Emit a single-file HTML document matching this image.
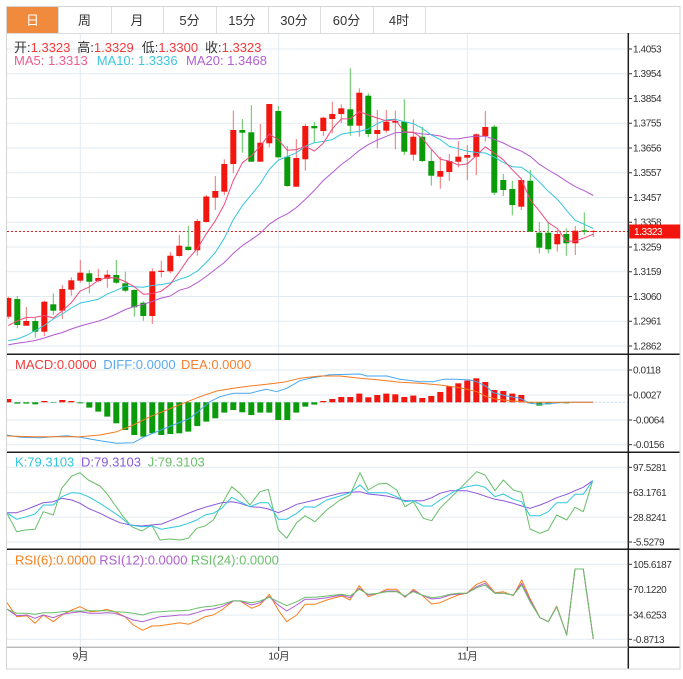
<!DOCTYPE html>
<html><head><meta charset="utf-8">
<style>
html,body{margin:0;padding:0;background:#fff;}
svg{display:block;font-family:"Liberation Sans","Noto Sans CJK SC",sans-serif;}
.ax{font-size:10px;fill:#333;letter-spacing:-0.4px;}
.tab{font-size:13px;fill:#333;text-anchor:middle;}
.lg{font-size:13px;}
</style></head><body>
<svg id="s" width="683" height="679" viewBox="0 0 683 679" xmlns="http://www.w3.org/2000/svg">
<defs><clipPath id="pc"><rect x="7" y="34" width="621" height="613"/></clipPath></defs>
<rect width="683" height="679" fill="#fff"/>

<!-- tabs -->
<rect x="7" y="7" width="51" height="26" fill="#f08a3c"/>
<g stroke="#dcdcdc" stroke-width="1">
<line x1="58.5" y1="6" x2="58.5" y2="33"/>
<line x1="111.5" y1="6" x2="111.5" y2="33"/>
<line x1="163.5" y1="6" x2="163.5" y2="33"/>
<line x1="216.5" y1="6" x2="216.5" y2="33"/>
<line x1="268.5" y1="6" x2="268.5" y2="33"/>
<line x1="320.5" y1="6" x2="320.5" y2="33"/>
<line x1="373.5" y1="6" x2="373.5" y2="33"/>
<line x1="425.5" y1="6" x2="425.5" y2="33"/>
<line x1="6" y1="33.5" x2="680" y2="33.5"/>
</g>
<text class="tab" x="32.5" y="25" style="fill:#fff">日</text>
<text class="tab" x="84.5" y="25">周</text>
<text class="tab" x="137" y="25">月</text>
<text class="tab" x="189.5" y="25">5分</text>
<text class="tab" x="242" y="25">15分</text>
<text class="tab" x="294" y="25">30分</text>
<text class="tab" x="346.5" y="25">60分</text>
<text class="tab" x="399" y="25">4时</text>

<!-- grid lines -->
<g stroke="#e3ebf1" stroke-width="1">
<line x1="7" x2="628" y1="49" y2="49"/>
<line x1="7" x2="628" y1="73.75" y2="73.75"/>
<line x1="7" x2="628" y1="98.5" y2="98.5"/>
<line x1="7" x2="628" y1="123.25" y2="123.25"/>
<line x1="7" x2="628" y1="148" y2="148"/>
<line x1="7" x2="628" y1="172.75" y2="172.75"/>
<line x1="7" x2="628" y1="197.5" y2="197.5"/>
<line x1="7" x2="628" y1="222.25" y2="222.25"/>
<line x1="7" x2="628" y1="247" y2="247"/>
<line x1="7" x2="628" y1="271.75" y2="271.75"/>
<line x1="7" x2="628" y1="296.5" y2="296.5"/>
<line x1="7" x2="628" y1="321.25" y2="321.25"/>
<line x1="7" x2="628" y1="346" y2="346"/>
<line x1="7" x2="628" y1="370" y2="370"/>
<line x1="7" x2="628" y1="395" y2="395"/>
<line x1="7" x2="628" y1="420" y2="420"/>
<line x1="7" x2="628" y1="444.7" y2="444.7"/>
<line x1="7" x2="628" y1="467.3" y2="467.3"/>
<line x1="7" x2="628" y1="492.7" y2="492.7"/>
<line x1="7" x2="628" y1="517.3" y2="517.3"/>
<line x1="7" x2="628" y1="542" y2="542"/>
<line x1="7" x2="628" y1="564.3" y2="564.3"/>
<line x1="7" x2="628" y1="589.3" y2="589.3"/>
<line x1="7" x2="628" y1="615" y2="615"/>
<line x1="7" x2="628" y1="639.3" y2="639.3"/>
<line x1="80.3" x2="80.3" y1="34" y2="647"/>
<line x1="278.7" x2="278.7" y1="34" y2="647"/>
<line x1="467.3" x2="467.3" y1="34" y2="647"/>
</g>

<!-- current price dotted line -->
<line x1="7" x2="628" y1="231.5" y2="231.5" stroke="#e0201a" stroke-width="1" stroke-dasharray="2,2"/>
<!-- macd zero dotted -->
<line x1="7" x2="628" y1="402.3" y2="402.3" stroke="#b5dcf2" stroke-width="1" stroke-dasharray="2,2"/>

<g id="dyn" clip-path="url(#pc)"></g>

<!-- legends -->
<text class="lg" x="14" y="52"><tspan fill="#333">开:</tspan><tspan fill="#f23a3a">1.3323</tspan></text>
<text class="lg" x="77.3" y="52"><tspan fill="#333">高:</tspan><tspan fill="#f23a3a">1.3329</tspan></text>
<text class="lg" x="141.7" y="52"><tspan fill="#333">低:</tspan><tspan fill="#f23a3a">1.3300</tspan></text>
<text class="lg" x="205" y="52"><tspan fill="#333">收:</tspan><tspan fill="#f23a3a">1.3323</tspan></text>
<text class="lg" x="14" y="65" fill="#ee5d8e">MA5: 1.3313</text>
<text class="lg" x="96.7" y="65" fill="#3ec4de">MA10: 1.3336</text>
<text class="lg" x="186" y="65" fill="#b25fd2">MA20: 1.3468</text>

<text class="lg" x="15" y="369" fill="#f03c3c">MACD:0.0000</text>
<text class="lg" x="103.3" y="369" fill="#5aaaf0">DIFF:0.0000</text>
<text class="lg" x="181" y="369" fill="#f58030">DEA:0.0000</text>

<text class="lg" x="15" y="466.7" fill="#2ec5de">K:79.3103</text>
<text class="lg" x="81" y="466.7" fill="#8a5ad8">D:79.3103</text>
<text class="lg" x="147.7" y="466.7" fill="#6cc06c">J:79.3103</text>

<text class="lg" x="15" y="564.3" fill="#f7801e">RSI(6):0.0000</text>
<text class="lg" x="99.3" y="564.3" fill="#b060d0">RSI(12):0.0000</text>
<text class="lg" x="190.7" y="564.3" fill="#6cc06c">RSI(24):0.0000</text>

<!-- panel separators & frame -->
<g stroke="#1e1e1e" stroke-width="1.5">
<line x1="7" x2="680" y1="354.3" y2="354.3"/>
<line x1="7" x2="680" y1="452.3" y2="452.3"/>
<line x1="7" x2="680" y1="549.3" y2="549.3"/>
<line x1="628" x2="680" y1="647.3" y2="647.3"/>
<line x1="628.3" x2="628.3" y1="33" y2="669"/>
</g>
<line x1="7" x2="628" y1="647.3" y2="647.3" stroke="#bdbdbd" stroke-width="1.5"/>
<g stroke="#d4d4d4" stroke-width="1" fill="none">
<rect x="6.5" y="6.5" width="673.5" height="662.5"/>
</g>

<!-- axis ticks -->
<g stroke="#333" stroke-width="1">
<line x1="628" x2="632" y1="49" y2="49"/><line x1="628" x2="632" y1="73.75" y2="73.75"/><line x1="628" x2="632" y1="98.5" y2="98.5"/><line x1="628" x2="632" y1="123.25" y2="123.25"/><line x1="628" x2="632" y1="148" y2="148"/><line x1="628" x2="632" y1="172.75" y2="172.75"/><line x1="628" x2="632" y1="197.5" y2="197.5"/><line x1="628" x2="632" y1="222.25" y2="222.25"/><line x1="628" x2="632" y1="247" y2="247"/><line x1="628" x2="632" y1="271.75" y2="271.75"/><line x1="628" x2="632" y1="296.5" y2="296.5"/><line x1="628" x2="632" y1="321.25" y2="321.25"/><line x1="628" x2="632" y1="346" y2="346"/>
<line x1="628" x2="632" y1="370" y2="370"/><line x1="628" x2="632" y1="395" y2="395"/><line x1="628" x2="632" y1="420" y2="420"/><line x1="628" x2="632" y1="444.7" y2="444.7"/>
<line x1="628" x2="632" y1="467.3" y2="467.3"/><line x1="628" x2="632" y1="492.7" y2="492.7"/><line x1="628" x2="632" y1="517.3" y2="517.3"/><line x1="628" x2="632" y1="542" y2="542"/>
<line x1="628" x2="632" y1="564.3" y2="564.3"/><line x1="628" x2="632" y1="589.3" y2="589.3"/><line x1="628" x2="632" y1="615" y2="615"/><line x1="628" x2="632" y1="639.3" y2="639.3"/>
<line x1="80.3" x2="80.3" y1="647" y2="651"/><line x1="278.7" x2="278.7" y1="647" y2="651"/><line x1="467.3" x2="467.3" y1="647" y2="651"/>
</g>

<!-- axis labels -->
<text class="ax" x="633" y="52.5">1.4053</text>
<text class="ax" x="633" y="77.2">1.3954</text>
<text class="ax" x="633" y="102">1.3854</text>
<text class="ax" x="633" y="126.7">1.3755</text>
<text class="ax" x="633" y="151.5">1.3656</text>
<text class="ax" x="633" y="176.2">1.3557</text>
<text class="ax" x="633" y="201">1.3457</text>
<text class="ax" x="633" y="225.7">1.3358</text>
<text class="ax" x="633" y="250.5">1.3259</text>
<text class="ax" x="633" y="275.2">1.3159</text>
<text class="ax" x="633" y="300">1.3060</text>
<text class="ax" x="633" y="324.7">1.2961</text>
<text class="ax" x="633" y="349.5">1.2862</text>

<text class="ax" x="633" y="373.5">0.0118</text>
<text class="ax" x="633" y="398.5">0.0027</text>
<text class="ax" x="633" y="423.5">-0.0064</text>
<text class="ax" x="633" y="448.2">-0.0156</text>

<text class="ax" x="633" y="470.8">97.5281</text>
<text class="ax" x="633" y="496.2">63.1761</text>
<text class="ax" x="633" y="520.8">28.8241</text>
<text class="ax" x="633" y="545.5">-5.5279</text>

<text class="ax" x="633" y="567.8">105.6187</text>
<text class="ax" x="633" y="592.8">70.1220</text>
<text class="ax" x="633" y="618.5">34.6253</text>
<text class="ax" x="633" y="642.8">-0.8713</text>

<rect x="629.2" y="224.5" width="51" height="14" fill="#f3150d"/>
<text class="ax" x="634" y="235" style="fill:#fff">1.3323</text>

<text class="ax" x="80.3" y="659.5" text-anchor="middle" style="font-size:10.5px">9月</text>
<text class="ax" x="278.7" y="659.5" text-anchor="middle" style="font-size:10.5px">10月</text>
<text class="ax" x="467.3" y="659.5" text-anchor="middle" style="font-size:10.5px">11月</text>
</svg>

<script>
(function(){
const NS='http://www.w3.org/2000/svg';
const g=document.getElementById('dyn');
function el(tag,a){const e=document.createElementNS(NS,tag);for(const k in a)e.setAttribute(k,a[k]);g.appendChild(e);return e;}
const X=i=>8.3+9*i;
const C=[
['r',298,316.7,296.7,319],['g',299,325,296,328.3],['r',321,325.7,307,325.7],['g',321,331.7,317.7,337.7],['r',301.7,331.7,300.7,336],
['g',304.3,310.7,293.3,315],['r',289,310.7,285,319],['r',280.3,289.7,277.3,295.7],['r',272.7,280.7,260,282.7],['g',273.3,281.7,270,293.3],
['r',278,281,269,282.3],['r',274.7,278.7,270,287.7],['g',275,282.7,260,284],['g',283.3,290.7,271.7,292.3],['g',290,307.3,289.3,316.7],
['g',302.7,316,301.3,320.7],['r',271.3,316,268.3,324],['r',270.7,272,260.7,277.3],['r',255.7,271.3,252,273.3],['r',245.7,256,235,256.7],
['g',246.7,250,225.7,250.7],['r',221,250.3,218.7,255.7],['r',196.5,222,195,222.5],['r',191,197.7,176,210],['r',164,191.7,159.3,195],
['r',130,164,110.7,173.3],['g',130,132.7,119,152.7],['g',132.3,161.7,105,161.7],['r',142.7,161.7,124,161.7],['r',104,143.3,104,147.3],
['g',111,157.3,106,158.3],['g',156.7,186,146,186.7],['r',158,186.7,139,186.7],['r',126,159.3,124,170.7],['g',126,128.3,121.7,142.7],
['r',117.7,131,116.7,136],['r',114,119,101.7,133.3],['r',108.3,114,104.3,123.3],['g',109.3,125.7,68.3,135.7],['r',92.7,125.7,88.3,136.7],
['g',95.7,134,93.3,137.3],['r',130,134,110,148.3],['r',121.7,130.7,110,132.7],['r',121,122.7,110.7,149.3],['g',121.7,151.7,99.3,155],
['r',136.7,154.7,119.3,160.7],['g',136.7,161,126.7,162],['g',161,175.7,150,185.7],['r',171,176.7,156.7,188.7],['r',161,172,154,181],
['r',156.7,161.7,141,167.3],['r',155,157.7,145,180],['r',134.3,156.7,133.3,175],['r',127,136,111,141.7],['g',126.7,192.7,125,195],
['g',180,190,174,196],['g',189,205,180.7,215.3],['r',180,206.7,178.3,210],['g',180.7,231.7,170,231.7],['g',232.7,247.7,222,253.3],
['g',232.7,249.3,222,253.3],['r',234,244.3,230,251.7],['g',234,243.3,228.3,255.7],['r',230.7,243.3,226,255],['g',230.3,231.7,212.3,235],
['r',231,232,230,237]
];
const RED='#f2160e',GRN='#0a9a0a',RW='#f27373',GW='#5ec45e';
// MACD histogram
const H=[3.3,-1.3,-1.3,-2,1.3,-0.5,2.3,1.3,-1,-5.3,-9.3,-14.3,-21,-27.7,-32.7,-34.3,-31,-32.7,-31.7,-31,-29.3,-23.7,-19.3,-16,-10.3,-7.7,-10,-12.7,-10.3,-10.3,-17.7,-17.7,-10.3,-4.3,-2.3,1.3,3.3,5.3,5.3,8.7,5,7.3,8.7,8,5.3,6.7,4.3,6.3,10.3,16,19,21.7,24,20.3,12.3,11.3,8.7,7.3,-1,-3.3,-2,-0.5,-1,0,0,0];
const Z0=402.3;
H.forEach((h,i)=>{if(!h)return;const x=X(i)-3;
 if(h>0)el('rect',{x:x,y:Z0-h,width:6,height:h,fill:RED});
 else el('rect',{x:x,y:Z0,width:6,height:-h,fill:GRN});});
// candles
C.forEach((c,i)=>{const x=X(i);const red=c[0]=='r';
 el('line',{x1:x,x2:x,y1:c[3],y2:c[4],stroke:red?RW:GW,'stroke-width':1});
 el('rect',{x:x-3,y:c[1],width:6,height:Math.max(c[2]-c[1],1),fill:red?RED:GRN});});
// MAs
const cl=C.map(c=>c[0]=='r'?c[1]:c[2]);cl[65]=231.5;
function ma(n,early){return cl.map((_,i)=>i<n-1?early[i]:cl.slice(i-n+1,i+1).reduce((a,b)=>a+b)/n);}
const m5=ma(5,[325.5,320.8,317.5,317.3]);
const m10=ma(10,[340.8,339,335.5,330.5,325.5,319,314,308,303]);
const m20=ma(20,[344.8,343.2,342,340.5,338,335,332.5,329,326,323.5,321.2,318,314,309.5,306.5,304.3,301.5,298,296]);
function pl(arr,col){el('polyline',{points:arr.map((v,i)=>X(i).toFixed(1)+','+v.toFixed(1)).join(' '),fill:'none',stroke:col,'stroke-width':1,'stroke-linejoin':'round'});}
pl(m20,'#b35ad0');pl(m10,'#35c5dc');pl(m5,'#ee4a7e');
function Z(a,x0,y0){return a.map(p=>(x0+p[0]/3).toFixed(1)+','+(y0+p[1]/3).toFixed(1)).join(' ');}
function line(pts,col){el('polyline',{points:pts,fill:'none',stroke:col,'stroke-width':1,'stroke-linejoin':'round'});}
function R(a){return a.map(p=>p[0].toFixed(1)+','+p[1].toFixed(1)).join(' ');}
// MACD lines
const DIFF=[[7,435],[20,437.3],[40,437.7],[66.7,435.7],[80,437.3],[100,440.7],[116.7,443.3],[133.3,442.7],[143.3,437.3],[156.7,431.7],[173.3,425],[190,418.3],[200,410],[210,401.7],[220,396.7],[233.3,393.3],[250,393.3],[260,390.7],[266.7,389.3],[276.7,391.7],[286.7,388.3],[300,380.7],[310,378.3],[330,374.7],[360,374],[366.7,376],[386.7,376],[400,379.3],[420,381.7],[433.3,381.7],[443.3,379.3],[456.7,379.3],[470,380],[476.7,381.7],[486.7,386.7],[493.3,392.7],[506.7,396],[520,398.3],[530,403.3],[540,404.3],[553.3,403.3],[566.7,402.3],[593.3,402.3]];
const DEA=[[7,436],[33,436.7],[80,436.7],[100,435],[116.7,431.7],[133.3,425],[150,416.7],[166.7,410],[183.3,403.3],[200,396.7],[216.7,391],[233.3,388.3],[250,386],[266.7,384.3],[283.3,382.3],[300,378.3],[320,376],[340,376],[360,378.3],[380,380],[400,382.3],[420,383.3],[440,385],[456.7,387.3],[466.7,389.3],[476.7,391.7],[486.7,396.7],[496.7,399.3],[510,400.7],[526.7,402.3],[593.3,402.3]];
line(R(DIFF),'#46a7f0');line(R(DEA),'#f47a20');
// KDJ
const J9=[[20,188],[50,245],[75,240],[105,238],[130,185],[160,195],[185,115],[215,78],[240,68],[265,90],[300,108],[320,130],[345,165],[370,200],[395,230],[425,243],[455,225],[480,270],[510,267],[540,270],[565,265],[590,235],[615,228],[640,210],[670,155],[695,110],[720,130],[750,165],[780,125],[805,118],[835,240],[860,265],[890,218]];
const J10=[[15,197],[45,215],[80,180],[120,150],[150,135],[180,68],[205,120],[235,102],[260,100],[290,120],[315,170],[340,155],[370,205],[395,212],[420,175],[470,125],[500,95],[530,65],[555,75],[585,122],[610,90],[640,120],[665,127],[690,237],[720,250],[745,240],[770,195],[800,210],[825,172],[850,185],[878,92]];
const K9=[[20,188],[50,208],[80,200],[105,192],[130,165],[160,165],[185,140],[215,128],[240,130],[265,140],[300,160],[330,180],[360,200],[390,225],[425,230],[455,228],[485,238],[510,233],[540,228],[565,220],[590,210],[615,195],[640,190],[665,175],[695,142],[720,155],[750,170],[780,158],[805,158],[835,208],[860,208],[890,190]];
const K10=[[15,170],[45,172],[80,150],[120,138],[150,128],[180,105],[205,128],[235,128],[260,128],[290,140],[315,155],[340,152],[370,168],[395,168],[420,150],[470,120],[500,110],[530,105],[555,112],[585,140],[610,132],[640,148],[665,155],[690,197],[720,197],[745,185],[770,158],[800,158],[825,133],[850,133],[878,92]];
const D9=[[20,188],[50,188],[80,178],[105,168],[130,158],[160,155],[185,145],[215,150],[240,160],[265,175],[300,190],[330,205],[360,218],[390,225],[425,228],[455,225],[485,222],[510,212],[540,200],[565,190],[590,180],[615,172],[640,165],[665,158],[695,155],[720,160],[750,170],[780,172],[805,177],[835,188],[860,178],[890,163]];
const D10=[[45,150],[80,140],[120,130],[150,127],[180,125],[205,132],[235,135],[260,138],[290,145],[315,152],[340,152],[370,152],[395,143],[420,130],[450,122],[500,122],[530,130],[560,140],[585,148],[610,152],[640,160],[665,168],[690,175],[720,165],[745,155],[770,143],[800,133],[825,122],[850,112],[878,92]];
line(Z(J9,0,450)+' '+Z(J10,300,450),'#68be68');
line(Z(D9,0,450)+' '+Z(D10,300,450),'#8c55d8');
line(Z(K9,0,450)+' '+Z(K10,300,450),'#2ec7de');
// RSI
const R6a=[[20,172],[50,215],[80,212],[105,235],[130,210],[160,230],[185,210],[215,195],[240,185],[270,200],[300,198],[320,193],[345,200],[375,215],[400,240],[428,256],[455,243],[480,242],[510,238],[540,233],[565,238],[590,228],[615,215],[640,210],[665,195],[700,168],[720,168],[755,190],[780,180],[808,148],[835,195],[860,230],[890,210]];
const R6b=[[15,178],[45,178],[80,165],[125,153],[150,165],[178,122],[205,155],[235,145],[260,133],[290,133],[315,157],[340,133],[365,150],[395,177],[420,173],[450,160],[475,150],[500,145],[530,118],[555,108],[585,143],[610,140],[640,152],[665,105],[690,160],[720,218],[745,230],[770,183],[800,270],[825,72],[850,72],[880,282]];
const R12a=[[20,192],[50,212],[80,210],[105,220],[130,210],[160,218],[185,208],[215,203],[240,200],[270,205],[300,205],[320,203],[345,205],[375,215],[400,225],[428,230],[455,222],[480,215],[510,213],[540,210],[565,210],[590,203],[615,195],[640,192],[665,185],[700,168],[720,168],[755,180],[780,173],[808,155],[835,180],[860,198],[890,180]];
const R12b=[[15,163],[45,163],[80,158],[125,150],[150,158],[178,130],[205,150],[235,145],[260,138],[290,138],[315,155],[340,137],[365,150],[395,162],[420,160],[450,150],[475,147],[500,145],[530,125],[555,115],[585,145],[610,145],[640,150],[665,115],[690,165],[720,218],[745,230],[770,185],[800,270],[825,72],[850,72],[880,282]];
const R24a=[[20,192],[50,205],[80,205],[105,208],[130,203],[160,203],[185,200],[215,198],[240,198],[270,197],[300,197],[320,197],[345,200],[375,202],[400,205],[428,210],[455,202],[480,200],[510,198],[540,197],[565,196],[590,190],[615,185],[640,183],[665,178],[700,167],[720,167],[755,173],[780,168],[808,157],[835,170],[860,182],[890,170]];
const R24b=[[15,157],[45,157],[80,153],[125,148],[150,153],[178,133],[205,148],[235,145],[260,140],[290,140],[315,153],[340,140],[365,150],[395,158],[420,155],[450,148],[475,145],[500,145],[530,128],[555,120],[585,145],[610,145],[640,150],[665,120],[690,170],[720,218],[745,230],[770,185],[800,270],[825,72],[850,72],[880,282]];
line(Z(R6a,0,545)+' '+Z(R6b,300,545),'#f7801e');
line(Z(R12a,0,545)+' '+Z(R12b,300,545),'#b05cd0');
line(Z(R24a,0,545)+' '+Z(R24b,300,545),'#6abf6a');
})();
</script>
</body></html>
